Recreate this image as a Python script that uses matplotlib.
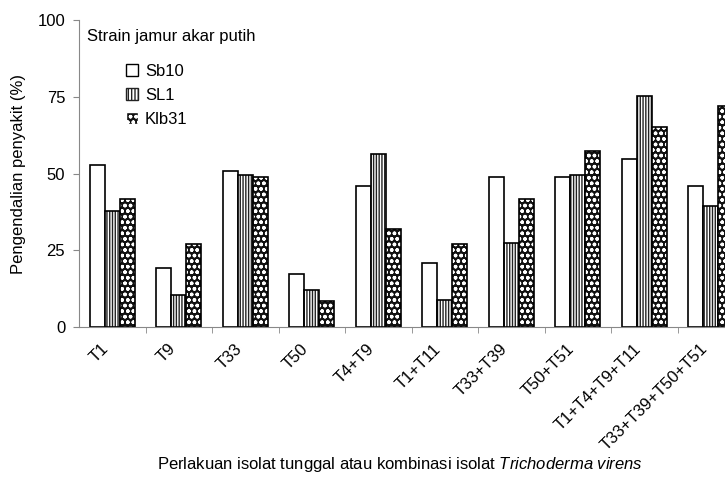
import numpy as np
import matplotlib
matplotlib.use("Agg")
import matplotlib.pyplot as plt
import matplotlib.transforms as mtransforms
from matplotlib.patches import Patch

plt.rcParams['font.family'] = ['Liberation Sans', 'DejaVu Sans']
plt.rcParams['mathtext.fontset'] = 'custom'
plt.rcParams['mathtext.rm'] = 'Liberation Sans'
plt.rcParams['mathtext.it'] = 'Liberation Sans:italic'
plt.rcParams['hatch.linewidth'] = 1.0

# data
categories = ["T1", "T9", "T33", "T50", "T4+T9", "T1+T11", "T33+T39",
              "T50+T51", "T1+T4+T9+T11", "T33+T39+T50+T51"]
sb10 = [52.8, 19.3, 50.9, 17.2, 45.9, 20.9, 49.0, 49.0, 54.7, 45.9]
sl1 = [37.8, 10.4, 49.5, 12.1, 56.4, 8.7, 27.5, 49.4, 75.2, 39.5]
klb31 = [41.8, 26.9, 48.8, 8.4, 31.8, 27.0, 41.8, 57.2, 65.2, 72.0]
series_names = ["Sb10", "SL1", "Klb31"]
yticks = [0, 25, 50, 75, 100]

FS = 12

fig = plt.figure(figsize=(7.25, 4.78), dpi=100)
ax = fig.add_axes([0.109, 0.316, 0.891, 0.642])

x = np.arange(len(categories))
w = 0.2256

# Sb10 - plain white
ax.bar(x - w, sb10, w, facecolor="white", edgecolor="black", lw=1.2)
# SL1 - vertical stripes
ax.bar(x, sl1, w, facecolor="white", edgecolor="#222222", hatch="||||||", lw=0)
ax.bar(x, sl1, w, fill=False, edgecolor="black", lw=1.2)
# Klb31 - dark with white dots
ax.bar(x + w, klb31, w, facecolor="#111111", edgecolor="white", hatch="ooo", lw=0)
ax.bar(x + w, klb31, w, fill=False, edgecolor="black", lw=1.2)

ax.set_xlim(-0.5, -0.5 + 646 / 66.5)
ax.set_ylim(0, 100)
ax.set_yticks(yticks)
ax.tick_params(axis="y", length=4, color="#888888", labelsize=FS, pad=6)

ax.set_xticks(x)
ax.set_xticklabels(categories, rotation=45, ha="right", va="center",
                   rotation_mode="anchor", fontsize=FS)
ax.tick_params(axis="x", which="major", length=0, pad=14)
shift = mtransforms.ScaledTranslation(-6 / 100, 0, fig.dpi_scale_trans)
for lab in ax.get_xticklabels():
    lab.set_transform(lab.get_transform() + shift)
ax.set_xticks(x[:-1] + 0.5, minor=True)
ax.tick_params(axis="x", which="minor", length=4, color="#888888")

for s in ["top", "right"]:
    ax.spines[s].set_visible(False)
ax.spines["left"].set_color("#888888")
ax.spines["bottom"].set_color("#888888")

ax.set_ylabel("Pengendalian penyakit (%)", fontsize=FS, labelpad=8)
fig.text(0.552, 0.028,
         r"Perlakuan isolat tunggal atau kombinasi isolat $\mathit{Trichoderma\ virens}$",
         ha="center", va="center", fontsize=FS)

# legend
ax.text(0.012, 0.946, "Strain jamur akar putih", transform=ax.transAxes,
        fontsize=FS, va="center", ha="left")
handles = [
    Patch(facecolor="white", edgecolor="black", lw=1.0),
    Patch(facecolor="white", edgecolor="#222222", hatch="|||||", lw=1.0),
    Patch(facecolor="#111111", edgecolor="white", hatch="ooo", lw=1.0),
]
ax.legend(handles, series_names, loc="upper left", bbox_to_anchor=(0.062, 0.88),
          frameon=False, fontsize=FS, handlelength=0.75, handleheight=0.75,
          handletextpad=0.4, labelspacing=0.55, borderaxespad=0)

fig.savefig("out.png", dpi=100)
